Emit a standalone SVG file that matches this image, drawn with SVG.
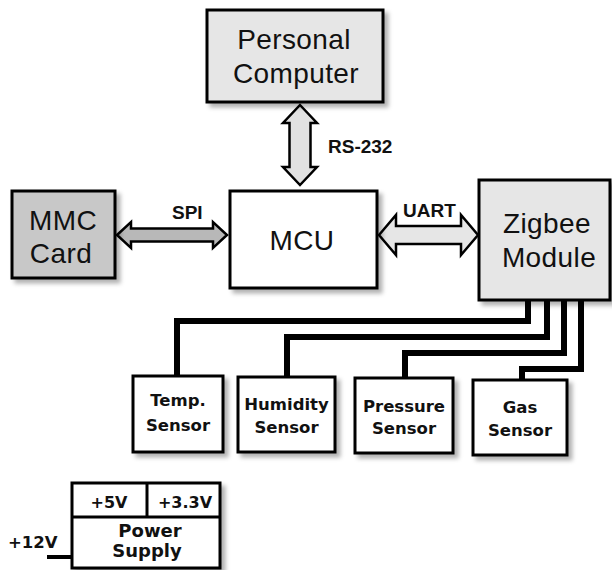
<svg xmlns="http://www.w3.org/2000/svg" width="612" height="570" viewBox="0 0 612 570">
  <defs>
    <filter id="shadow" x="-10%" y="-10%" width="130%" height="130%">
      <feDropShadow dx="4" dy="4" stdDeviation="2" flood-color="#000" flood-opacity="0.3"/>
    </filter>
    <style>
      .box { stroke: #000; stroke-width: 3; filter: url(#shadow); }
      .big { font-family: "Liberation Sans", Arial, sans-serif; font-size: 28px; fill: #111; text-anchor: middle; letter-spacing: 0.4px; }
      .small { font-family: "DejaVu Sans", Verdana, sans-serif; font-weight: bold; font-size: 16.5px; fill: #111; text-anchor: middle; }
      .lbl { font-family: "Liberation Sans", Arial, sans-serif; font-weight: bold; font-size: 19px; fill: #111; }
      .wire { fill: none; stroke: #000; stroke-width: 6; stroke-linejoin: miter; }
      .arrow { stroke: #000; stroke-width: 2.5; stroke-linejoin: miter; }
    </style>
  </defs>
  <rect width="612" height="570" fill="#fff"/>

  <!-- sensor bus wiring and interface arrows -->
  <g id="connectors">
    <path class="wire" d="M528,300 V321 H177 V376"/>
    <path class="wire" d="M547,300 V337 H287 V377"/>
    <path class="wire" d="M564,300 V353 H405 V378"/>
    <path class="wire" d="M581,300 V369 H522 V380"/>
    <path class="wire" style="stroke-width:4" d="M47,557 H72"/>

    <polygon class="arrow" fill="#e2e2e2" points="300,105 317,123 310.5,123 310.5,167 317,167 300,185 283,167 289.5,167 289.5,123 283,123"/>
    <polygon class="arrow" fill="#b8b8b8" points="117,235 131,222 131,228.5 213,228.5 213,222 227,235 213,248 213,241.5 131,241.5 131,248"/>
    <polygon class="arrow" fill="#e6e6e6" points="379,235 396,215 396,226 461,226 461,215 478,235 461,255 461,244 396,244 396,255"/>

    <text class="lbl" x="328" y="153">RS-232</text>
    <text class="lbl" x="172" y="219">SPI</text>
    <text class="lbl" x="403" y="217">UART</text>
  </g>

  <g id="pc">
    <rect class="box" x="207" y="10" width="176" height="92" fill="#e6e6e6"/>
    <text class="big" x="294" y="49">Personal</text>
    <text class="big" x="296" y="83">Computer</text>
  </g>

  <g id="mmc">
    <rect class="box" x="12" y="191" width="103" height="87" fill="#c8c8c8"/>
    <text class="big" x="63" y="230">MMC</text>
    <text class="big" x="61" y="263">Card</text>
  </g>

  <g id="mcu">
    <rect class="box" x="230" y="191" width="147" height="97" fill="#fff"/>
    <text class="big" x="302" y="250">MCU</text>
  </g>

  <g id="zigbee">
    <rect class="box" x="479" y="180" width="131" height="120" fill="#e6e6e6"/>
    <text class="big" x="547" y="233">Zigbee</text>
    <text class="big" x="549" y="267">Module</text>
  </g>

  <g id="temp">
    <rect class="box" x="133" y="376" width="90" height="76" fill="#fff"/>
    <text class="small" x="178" y="406">Temp.</text>
    <text class="small" x="178" y="431">Sensor</text>
  </g>

  <g id="humidity">
    <rect class="box" x="238" y="377" width="97" height="75" fill="#fff"/>
    <text class="small" x="286.5" y="410">Humidity</text>
    <text class="small" x="286.5" y="433">Sensor</text>
  </g>

  <g id="pressure">
    <rect class="box" x="355" y="378" width="98" height="75" fill="#fff"/>
    <text class="small" x="404" y="412">Pressure</text>
    <text class="small" x="404" y="434">Sensor</text>
  </g>

  <g id="gas">
    <rect class="box" x="473" y="380" width="94" height="75" fill="#fff"/>
    <text class="small" x="520" y="413">Gas</text>
    <text class="small" x="520" y="436">Sensor</text>
  </g>

  <g id="power">
    <rect class="box" x="72" y="483" width="148" height="85" fill="#fff"/>
    <path d="M72,517 H220 M147,483 V517" stroke="#000" stroke-width="3" fill="none"/>
    <text class="small" style="font-size:16px" x="109" y="508">+5V</text>
    <text class="small" style="font-size:16px" x="185" y="508">+3.3V</text>
    <text class="small" style="font-size:18px" x="150" y="537">Power</text>
    <text class="small" style="font-size:18px" x="147" y="557">Supply</text>
    <text class="small" style="font-size:16.5px;text-anchor:start" x="8" y="548">+12V</text>
  </g>
</svg>
